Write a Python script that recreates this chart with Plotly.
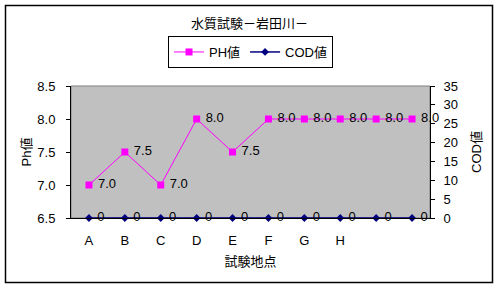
import plotly.graph_objects as go

categories = ["A", "B", "C", "D", "E", "F", "G", "H", "", ""]
ph_values = [7.0, 7.5, 7.0, 8.0, 7.5, 8.0, 8.0, 8.0, 8.0, 8.0]
cod_values = [0, 0, 0, 0, 0, 0, 0, 0, 0, 0]
x_pos = list(range(len(categories)))

FONT = "Liberation Sans, Noto Sans CJK JP, sans-serif"

fig = go.Figure()
fig.add_trace(go.Scatter(
    x=x_pos, y=ph_values, name="PH値", mode="lines+markers+text",
    line=dict(color="#FF00FF", width=1),
    marker=dict(symbol="square", size=7, color="#FF00FF"),
    texttemplate=" %{y:.1f}", textposition="middle right",
    textfont=dict(size=13, color="black", family=FONT),
    cliponaxis=False,
))
fig.add_trace(go.Scatter(
    x=x_pos, y=cod_values, name="COD値", mode="lines+markers+text",
    line=dict(color="#000080", width=1.5),
    marker=dict(symbol="diamond", size=6, color="#000080"),
    texttemplate=" %{y}", textposition="middle right",
    textfont=dict(size=13, color="black", family=FONT),
    yaxis="y2", cliponaxis=False,
))

L, R, T, B = 71, 69, 86, 71
W, H = 499, 289
pw, ph = W - L - R, H - T - B

def px(x):
    return (x - L) / pw

def py(y):
    return (H - B - y) / ph

fig.update_layout(
    width=W, height=H,
    margin=dict(l=L, r=R, t=T, b=B),
    paper_bgcolor="white", plot_bgcolor="#C0C0C0",
    font=dict(family=FONT, size=13, color="black"),
    title=dict(text="水質試験－岩田川－", x=0.5, xanchor="center", y=1 - 23 / H, yanchor="middle",
               font=dict(size=13)),
    showlegend=True,
    legend=dict(orientation="h", x=0.5, xanchor="center", y=py(36), yanchor="top",
                bordercolor="black", borderwidth=1, bgcolor="white",
                font=dict(size=13), itemwidth=30, tracegroupgap=0),
    xaxis=dict(range=[-0.5, len(categories) - 0.5], tickmode="array", tickvals=x_pos,
               ticktext=categories, showgrid=False, zeroline=False,
               showline=True, linecolor="black", linewidth=1, ticks="",
               ticklabelstandoff=10,
               title=dict(text="試験地点", standoff=10, font=dict(size=13)),
               tickfont=dict(size=13)),
    yaxis=dict(range=[6.5, 8.5], dtick=0.5, tickformat=".1f", showgrid=False, zeroline=False,
               showline=True, linecolor="black", linewidth=1, ticks="outside", ticklen=4,
               tickcolor="black", ticklabelstandoff=8,
               title=dict(text="Ph値", standoff=2, font=dict(size=13)),
               tickfont=dict(size=13)),
    yaxis2=dict(range=[0, 35], dtick=5, overlaying="y", side="right", showgrid=False,
                zeroline=False, showline=True, linecolor="black", linewidth=1,
                ticks="outside", ticklen=4, tickcolor="black", ticklabelstandoff=6,
                title=dict(text="COD値", standoff=14, font=dict(size=13)),
                tickfont=dict(size=13)),
    shapes=[
        dict(type="rect", xref="paper", yref="paper", x0=0, x1=1, y0=0, y1=1,
             line=dict(color="#808080", width=1), layer="below"),
        dict(type="rect", xref="paper", yref="paper", x0=px(5.5), x1=px(492.5), y0=py(5.5), y1=py(282.5),
             line=dict(color="black", width=1.5), fillcolor="rgba(0,0,0,0)"),
    ],
)

fig.write_html("out.html")
